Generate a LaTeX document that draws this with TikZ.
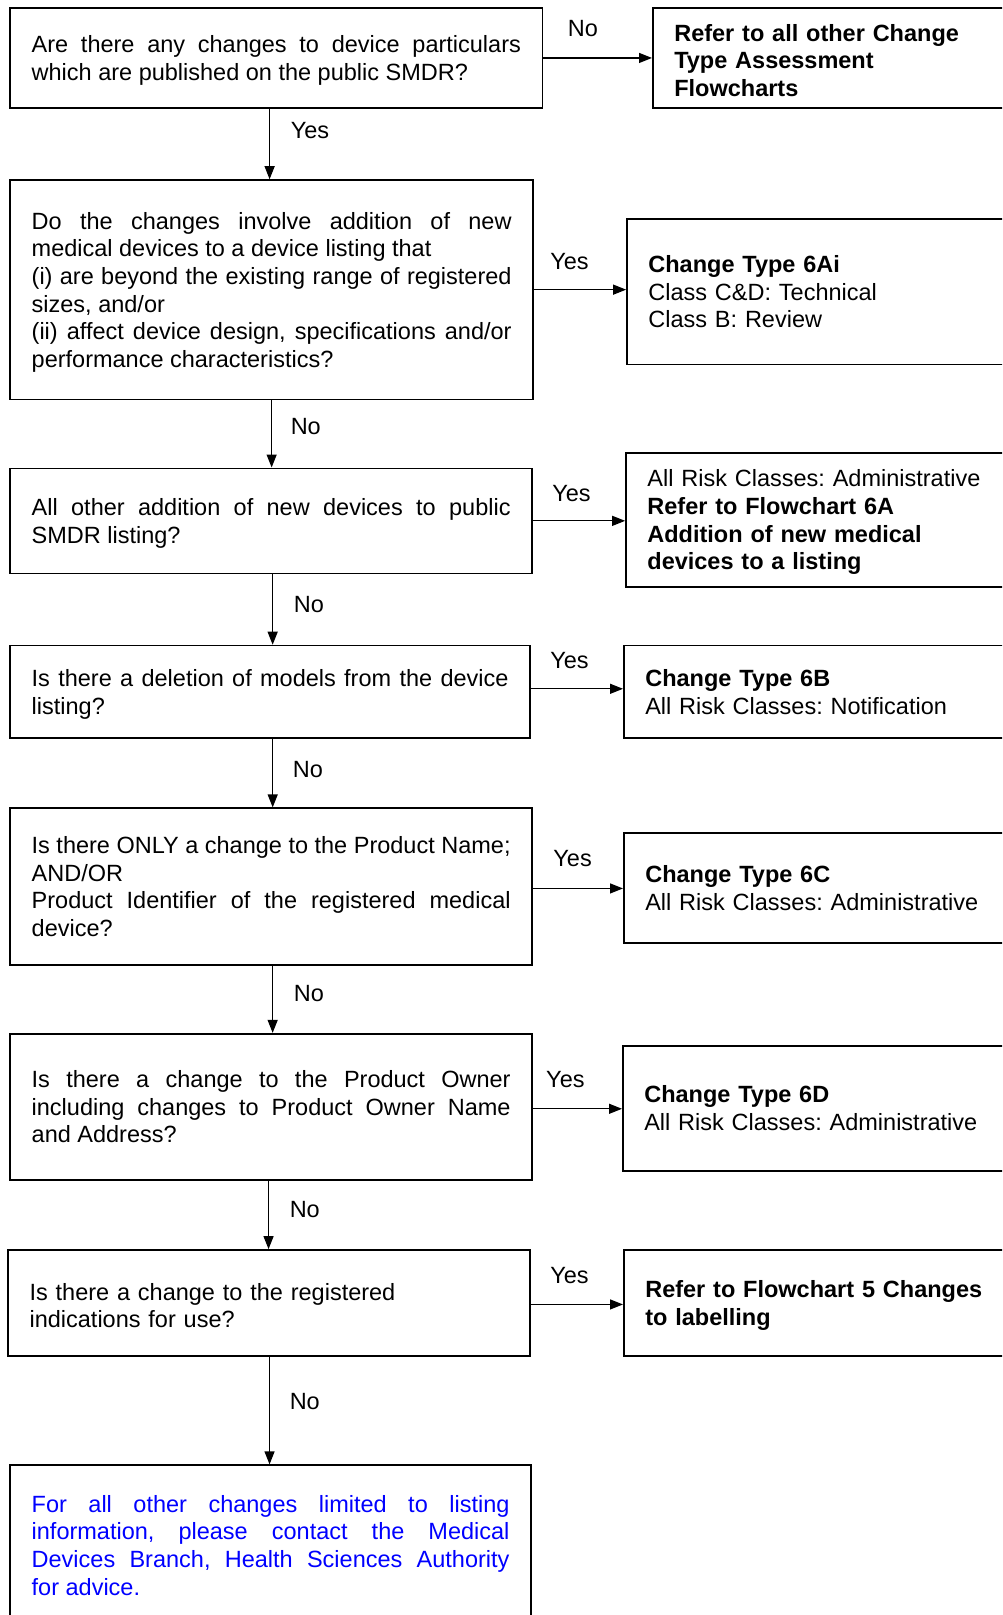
\documentclass[tikz,border=0pt]{standalone}
\usepackage{fontspec}
\setmainfont{Liberation Sans}
\usetikzlibrary{arrows.meta,calc}
\definecolor{linkblue}{RGB}{0,0,255}
\frenchspacing

\tikzset{
  txt/.style={font=\fontsize{23.5}{27.6}\selectfont},
  % taller first line: sets the text block slightly lower in its box
  lowered/.style={execute at begin node={\rule{0pt}{22pt}}},
  qbox/.style={draw, line width=1.6pt, anchor=north west, inner xsep=21.6pt,
    inner ysep=0pt, align=justify, txt},
  abox/.style={draw, line width=1.6pt, anchor=north west, inner xsep=21.5pt,
    inner ysep=0pt, align=left, txt},
  arr/.style={line width=1.2pt, -{Triangle[length=13pt,width=10pt]}},
  lbl/.style={txt, inner sep=0pt},
}

\begin{document}
\begin{tikzpicture}[x=1pt,y=-1pt]
\clip (0,0) rectangle (1002,1615);

% question boxes (left column)
\node[qbox, lowered, minimum width=532.4pt, minimum height=99.9pt, text width=489.2pt] (q1) at (9.3,7.2)
  {Are there any changes to device particulars\linebreak which are published on the public SMDR?};
\node[qbox, lowered, minimum width=523.1pt, minimum height=219.3pt, text width=479.9pt] (q2) at (9.3,179.2)
  {Do the changes involve addition of new\linebreak medical devices to a device listing that\\
   (i) are beyond the existing range of registered\linebreak sizes, and/or\\
   (ii) affect device design, specifications and/or\linebreak performance characteristics?};
\node[qbox, lowered, minimum width=522.1pt, minimum height=105.1pt, text width=478.9pt] (q3) at (9.3,467.5)
  {All other addition of new devices to public\linebreak SMDR listing?};
\node[qbox, lowered, minimum width=520pt, minimum height=92.6pt, text width=476.8pt] (q4) at (9.3,644.7)
  {Is there a deletion of models from the device\linebreak listing?};
\node[qbox, minimum width=522.1pt, minimum height=156.5pt, text width=478.9pt] (q5) at (9.3,807.4)
  {Is there ONLY a change to the Product Name;\\ AND/OR\\
   Product Identifier of the registered medical\linebreak device?};
\node[qbox, minimum width=522.1pt, minimum height=146.2pt, text width=478.9pt] (q6) at (9.3,1032.9)
  {Is there a change to the Product Owner\linebreak including changes to Product Owner Name\linebreak and Address?};
\node[qbox, lowered, align=left, minimum width=522.1pt, minimum height=106.1pt, text width=478.9pt] (q7) at (7.2,1249.1)
  {Is there a change to the registered\\ indications for use?};
\node[qbox, inner ysep=30pt, text width=477.8pt, text=linkblue] (q8) at (9.3,1464.4)
  {For all other changes limited to listing\linebreak information, please contact the Medical\linebreak
   Devices Branch, Health Sciences Authority\linebreak for advice.};

% outcome boxes (right column)
\node[abox, lowered, minimum width=400pt, minimum height=99.9pt, text width=357pt] (r1) at (652,7.2)
  {\textbf{Refer to all other Change}\\ \textbf{Type Assessment}\\ \textbf{Flowcharts}};
\node[abox, minimum width=420pt, minimum height=145.2pt, text width=377pt] (r2) at (626.1,218.3)
  {\textbf{Change Type 6Ai}\\ Class C\&D: Technical\\ Class B: Review};
\node[abox, lowered, minimum width=420pt, minimum height=133.9pt, text width=377pt] (r3) at (625.1,452.1)
  {All Risk Classes: Administrative\\ \textbf{Refer to Flowchart 6A}\\
   \textbf{Addition of new medical}\\ \textbf{devices to a listing}};
\node[abox, minimum width=420pt, minimum height=92.6pt, text width=377pt] (r4) at (623,644.7)
  {\textbf{Change Type 6B}\\ All Risk Classes: Notification};
\node[abox, minimum width=420pt, minimum height=110.2pt, text width=377pt] (r5) at (623,832.1)
  {\textbf{Change Type 6C}\\ All Risk Classes: Administrative};
\node[abox, minimum width=420pt, minimum height=124.7pt, text width=377pt] (r6) at (622,1045.2)
  {\textbf{Change Type 6D}\\ All Risk Classes: Administrative};
\node[abox, lowered, minimum width=420pt, minimum height=106.1pt, text width=377pt] (r7) at (623,1249.1)
  {\textbf{Refer to Flowchart 5 Changes}\\ \textbf{to labelling}};

% "No" path down the left column
\draw[arr] ([xshift=-6.7pt]q1.south) -- ([xshift=-6.7pt]q1.south |- q2.north);
\draw[arr] (q2.south) -- (q2.south |- q3.north);
\draw[arr] ([xshift=1.5pt]q3.south) -- ([xshift=1.5pt]q3.south |- q4.north);
\draw[arr] ([xshift=2.6pt]q4.south) -- ([xshift=2.6pt]q4.south |- q5.north);
\draw[arr] ([xshift=1.5pt]q5.south) -- ([xshift=1.5pt]q5.south |- q6.north);
\draw[arr] ([xshift=-2.6pt]q6.south) -- ([xshift=-2.6pt]q6.south |- q7.north);
\draw[arr] ([xshift=0.5pt]q7.south) -- ([xshift=0.5pt]q7.south |- q8.north);

% branches to the outcomes
\draw[arr] (q1.east) -- (q1.east -| r1.west);
\draw[arr] (q2.east) -- (q2.east -| r2.west);
\draw[arr] (q3.east) -- (q3.east -| r3.west);
\draw[arr] ([yshift=3pt]q4.east) -- ([yshift=3pt]q4.east -| r4.west);
\draw[arr] ([yshift=-2pt]q5.east) -- ([yshift=-2pt]q5.east -| r5.west);
\draw[arr] ([yshift=-2pt]q6.east) -- ([yshift=-2pt]q6.east -| r6.west);
\draw[arr] ([yshift=-1.5pt]q7.east) -- ([yshift=-1.5pt]q7.east -| r7.west);

% arrow labels
\node[lbl] (l1) at (583,28.8) {No};
\node[lbl] (l2) at (310,130.8) {Yes};
\node[lbl] (l3) at (569.5,261.6) {Yes};
\node[lbl] (l4) at (305.8,426.3) {No};
\node[lbl] (l5) at (571.5,493.3) {Yes};
\node[lbl] (l6) at (309,604.5) {No};
\node[lbl] (l7) at (569.5,660.1) {Yes};
\node[lbl] (l8) at (307.9,769.3) {No};
\node[lbl] (l9) at (572.6,858.9) {Yes};
\node[lbl] (l10) at (309,993.8) {No};
\node[lbl] (l11) at (565.4,1079.2) {Yes};
\node[lbl] (l12) at (304.8,1210) {No};
\node[lbl] (l13) at (569.5,1276) {Yes};
\node[lbl] (l14) at (304.8,1401.6) {No};
\end{tikzpicture}
\end{document}
